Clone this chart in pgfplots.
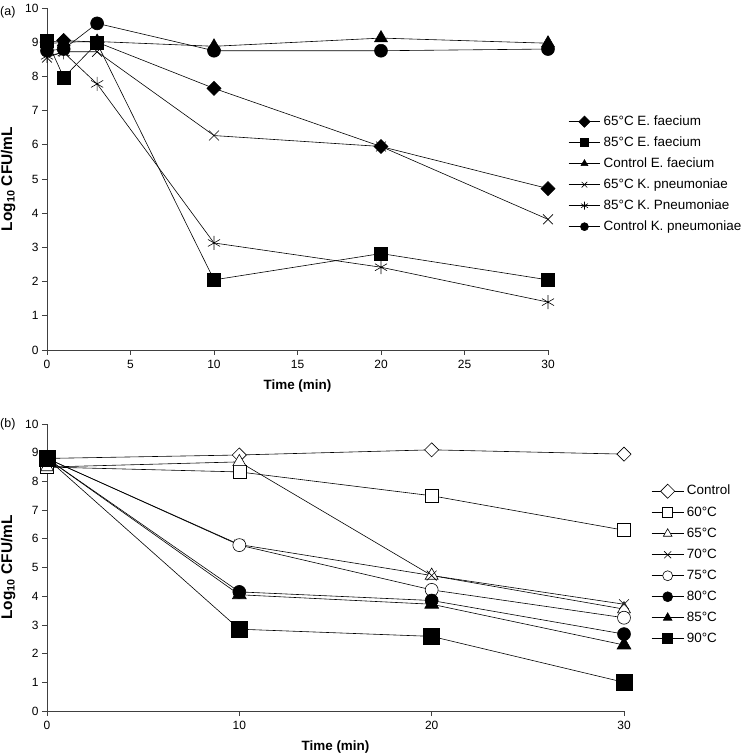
\documentclass[border=0pt]{standalone}
\usepackage{fontspec}
\setmainfont{Liberation Sans}
\usepackage{pgfplots}
\pgfplotsset{compat=1.18}
\begin{document}
\begin{tikzpicture}
\path[use as bounding box] (0bp,0bp) rectangle (741bp,755bp);
\pgfplotsset{
 myaxis/.style={
  scale only axis, axis lines=left, axis line style={black!75, line width=0.7pt, -},
  tick align=outside, tick style={black!75, line width=0.7pt}, major tick length=5bp,
  ticklabel style={font=\fontsize{12}{14}\selectfont},
  xticklabel style={yshift=-2bp},
  /pgf/number format/assume math mode=true,
  xlabel style={font=\bfseries\fontsize{13.5}{16}\selectfont, yshift=-4bp},
  ylabel style={font=\bfseries\fontsize{15.5}{17}\selectfont, yshift=3bp},
  xlabel={Time (min)}, ylabel={Log\textsubscript{10} CFU/mL},
  ymin=0, ymax=10, ytick={0,...,10}, xmin=0, xmax=30,
  clip=false,
  legend cell align=left,
  legend style={draw=none, fill=none, font=\fontsize{13.5}{16}\selectfont,
    row sep=8bp, column sep=3bp, nodes={inner sep=0pt, text height=10bp, text depth=3bp}},
  every axis plot/.append style={black, line width=0.6pt},
 }
}
\node[anchor=west, inner sep=0pt, font=\fontsize{12.5}{14}\selectfont] at (0bp,743bp) {(a)};
\node[anchor=west, inner sep=0pt, font=\fontsize{12.5}{14}\selectfont] at (0bp,331bp) {(b)};
\begin{axis}[myaxis, at={(47bp,405bp)}, anchor=south west, width=501bp, height=342bp,
  xtick={0,5,...,30},
  legend style={at={(1.034,0.693)}, anchor=north west},
  legend image code/.code={\draw[mark repeat=2,mark phase=2,#1,mark size=4pt] plot coordinates {(0pt,0pt) (16pt,0pt) (32pt,0pt)};},
]
\addplot[mark=square*, mark size=5pt, mark options={solid, fill=black, rotate=45}] coordinates {(0,9.0) (1,9.05) (3,9.0) (10,7.65) (20,5.95) (30,4.72)};
\addlegendentry{65°C E. faecium}
\addplot[mark=square*, mark size=6.5pt, mark options={solid, fill=black}] coordinates {(0,9.05) (1,7.97) (3,8.97) (10,2.05) (20,2.82) (30,2.05)};
\addlegendentry{85°C E. faecium}
\addplot[mark=triangle*, mark size=7.5pt, mark options={solid, fill=black}] coordinates {(0,8.95) (1,9.0) (3,9.02) (10,8.88) (20,9.12) (30,8.97)};
\addlegendentry{Control E. faecium}
\addplot[mark=x, mark size=7pt, mark options={solid}] coordinates {(0,8.55) (1,8.72) (3,8.72) (10,6.27) (20,5.95) (30,3.82)};
\addlegendentry{65°C K. pneumoniae}
\addplot[mark=asterisk, mark size=7pt, mark options={solid}] coordinates {(0,8.6) (1,8.7) (3,7.78) (10,3.13) (20,2.42) (30,1.4)};
\addlegendentry{85°C K. Pneumoniae}
\addplot[mark=*, mark size=6.5pt, mark options={solid, fill=black}] coordinates {(0,8.75) (1,8.8) (3,9.55) (10,8.75) (20,8.75) (30,8.8)};
\addlegendentry{Control K. pneumoniae}
\end{axis}
\begin{axis}[myaxis, at={(47bp,44bp)}, anchor=south west, width=577bp, height=287bp,
  xtick={0,10,20,30},
  legend style={at={(1.042,0.798)}, anchor=north west},
  legend image code/.code={\draw[mark repeat=2,mark phase=2,#1,mark size=5pt] plot coordinates {(0pt,0pt) (16pt,0pt) (32pt,0pt)};},
]
\addplot[mark=square*, mark size=5pt, mark options={solid, fill=white, rotate=45}] coordinates {(0,8.8) (10,8.92) (20,9.1) (30,8.95)};
\addlegendentry{Control}
\addplot[mark=square*, mark size=6.5pt, mark options={solid, fill=white}] coordinates {(0,8.5) (10,8.33) (20,7.5) (30,6.3)};
\addlegendentry{60°C}
\addplot[mark=triangle*, mark size=7.5pt, mark options={solid, fill=white}] coordinates {(0,8.5) (10,8.68) (20,4.72) (30,3.55)};
\addlegendentry{65°C}
\addplot[mark=x, mark size=7pt, mark options={solid}] coordinates {(0,8.8) (10,5.8) (20,4.72) (30,3.72)};
\addlegendentry{70°C}
\addplot[mark=*, mark size=6.5pt, mark options={solid, fill=white}] coordinates {(0,8.8) (10,5.78) (20,4.22) (30,3.25)};
\addlegendentry{75°C}
\addplot[mark=*, mark size=6.5pt, mark options={solid, fill=black}] coordinates {(0,8.8) (10,4.15) (20,3.85) (30,2.68)};
\addlegendentry{80°C}
\addplot[mark=triangle*, mark size=8pt, mark options={solid, fill=black}] coordinates {(0,8.8) (10,4.05) (20,3.72) (30,2.3)};
\addlegendentry{85°C}
\addplot[mark=square*, mark size=8pt, mark options={solid, fill=black}] coordinates {(0,8.8) (10,2.85) (20,2.6) (30,1.0)};
\addlegendentry{90°C}
\end{axis}
\end{tikzpicture}
\end{document}
